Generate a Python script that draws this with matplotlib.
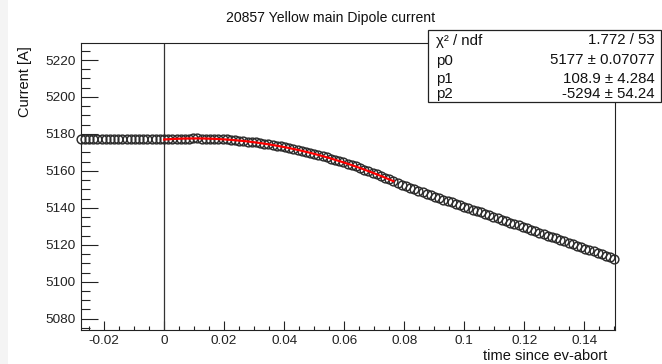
import numpy as np
import matplotlib
matplotlib.use("Agg")
import matplotlib.pyplot as plt
from matplotlib.patches import Rectangle
from matplotlib.ticker import MultipleLocator, FuncFormatter

plt.rcParams['font.family'] = ['Liberation Sans', 'DejaVu Sans']

# Sampling of the current readback (720 Hz), sample index relative to the abort
sample_rate = 720.0
first_sample = -20
last_sample = 108

# Current readback [A], one value per sample
current = [
    # before the abort
    5177.3, 5177.3, 5177.3, 5177.3, 5177.3, 5177.3, 5177.3, 5177.3, 5177.3, 5177.3,
    5177.3, 5177.3, 5177.3, 5177.3, 5177.3, 5177.3, 5177.3, 5177.3, 5177.3, 5177.3,
    # fitted range
    5177.0, 5177.1, 5177.3, 5177.4, 5177.4, 5177.5, 5177.5, 5177.6, 5177.6, 5177.5,
    5177.5, 5177.4, 5177.3, 5177.2, 5177.1, 5177.0, 5176.8, 5176.6, 5176.4, 5176.2,
    5175.9, 5175.7, 5175.4, 5175.1, 5174.7, 5174.4, 5174.0, 5173.6, 5173.2, 5172.8,
    5172.3, 5171.9, 5171.4, 5170.9, 5170.3, 5169.8, 5169.2, 5168.6, 5168.0, 5167.4,
    5166.7, 5166.0, 5165.3, 5164.6, 5163.9, 5163.1, 5162.4, 5161.5, 5160.7, 5159.9,
    5159.0, 5158.2, 5157.2, 5156.3, 5155.4, 5154.4,
    # after the fitted range
    5153.5, 5152.6, 5151.7, 5150.9, 5150.0, 5149.2, 5148.4, 5147.6, 5146.9, 5146.1,
    5145.3, 5144.5, 5143.7, 5143.0, 5142.2, 5141.4, 5140.6, 5139.8, 5139.1, 5138.3,
    5137.5, 5136.7, 5135.9, 5135.2, 5134.4, 5133.6, 5132.8, 5132.0, 5131.3, 5130.5,
    5129.7, 5128.9, 5128.1, 5127.4, 5126.6, 5125.8, 5125.0, 5124.2, 5123.5, 5122.7,
    5121.9, 5121.1, 5120.3, 5119.6, 5118.8, 5118.0, 5117.2, 5116.4, 5115.7, 5114.9,
    5114.1, 5113.3, 5112.5,
]

# Quadratic fit  p0 + p1*t + p2*t^2  over the first samples after the abort
fit_names = ["p0", "p1", "p2"]
fit_values = [5177.0, 108.9, -5294.0]
fit_errors = ["0.07077", "4.284", "54.24"]
fit_value_text = ["5177", "108.9", "-5294"]
chi2_text = "1.772 / 53"
fit_first_sample = 0
fit_last_sample = 55

title = "20857 Yellow main Dipole current"
xlabel = "time since ev-abort"
ylabel = "Current [A]"

W, H = 662, 364
fig = plt.figure(figsize=(W / 100, H / 100), dpi=100)
fig.patch.set_facecolor("white")

# light strip along the left edge of the canvas
fig.add_artist(Rectangle((0, 0), 8 / W, 1, transform=fig.transFigure,
                         facecolor="#f4f4f4", edgecolor="none", zorder=0))

L, R, T, B = 81, 615, 43, 330
ax = fig.add_axes([L / W, 1 - B / H, (R - L) / W, (B - T) / H])

t = np.arange(first_sample, last_sample + 1) / sample_rate
ax.plot(t, current, linestyle="none", marker="o", markersize=6.3,
        markerfacecolor="none", markeredgecolor="#2c2c2c",
        markeredgewidth=1.05, clip_on=False, zorder=3)

t_fit = np.linspace(fit_first_sample / sample_rate, fit_last_sample / sample_rate, 200)
p0, p1, p2 = fit_values
ax.plot(t_fit, p0 + p1 * t_fit + p2 * t_fit ** 2, color="#ff0000", lw=1.6, zorder=4)

ax.axvline(0.0, color="#333333", lw=0.9, zorder=2)

ax.set_xlim(-0.0277, 0.1502)
ax.set_ylim(5073.9, 5229.2)

ax.xaxis.set_major_locator(MultipleLocator(0.02))
ax.xaxis.set_minor_locator(MultipleLocator(0.005))
ax.yaxis.set_major_locator(MultipleLocator(20))
ax.yaxis.set_minor_locator(MultipleLocator(5))
ax.xaxis.set_major_formatter(FuncFormatter(
    lambda v, p: "0" if abs(v) < 1e-9 else f"{v:g}"))

ax.tick_params(axis="y", which="major", direction="in", length=12.2, width=0.8,
               labelsize=9.7, pad=4, colors="#222222", right=False)
ax.tick_params(axis="y", which="minor", direction="in", length=6.5, width=0.8,
               colors="#222222", right=False)
ax.tick_params(axis="x", which="major", direction="in", length=6.5, width=0.8,
               labelsize=9.7, pad=3.5, colors="#222222", top=False)
ax.tick_params(axis="x", which="minor", direction="in", length=3.2, width=0.8,
               colors="#222222", top=False)
for s in ax.spines.values():
    s.set_linewidth(0.8)
    s.set_color("#222222")

fig.text(0.5, 1 - 18 / H, title, ha="center", va="center", fontsize=10.1, color="#111111")
fig.text(607 / W, 1 - 356 / H, xlabel, ha="right", va="center", fontsize=10.5, color="#111111")
fig.text(25 / W, 1 - 46 / H, ylabel, ha="center", va="top", rotation=90,
         fontsize=10.5, color="#111111")

# statistics box
bx0, bx1, by0, by1 = 428, 661, 30, 102
fig.add_artist(Rectangle((bx0 / W, 1 - by1 / H), (bx1 - bx0) / W, (by1 - by0) / H,
                         transform=fig.transFigure, facecolor="white",
                         edgecolor="#222222", lw=0.9, zorder=10))
rows = [("χ² / ndf", chi2_text)] + [
    (n, f"{v} ± {e}") for n, v, e in zip(fit_names, fit_value_text, fit_errors)]
row_baselines = [44.5, 64.5, 83, 98]
for yb_px, (left_txt, right_txt) in zip(row_baselines, rows):
    yb = 1 - yb_px / H
    fig.text(436 / W, yb, left_txt, ha="left", va="baseline", fontsize=10.8,
             color="#111111", zorder=11)
    fig.text(655 / W, yb, right_txt, ha="right", va="baseline", fontsize=10.8,
             color="#111111", zorder=11)

fig.savefig("out.png", dpi=100)
